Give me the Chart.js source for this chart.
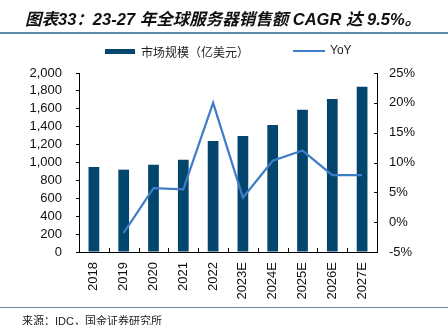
<!DOCTYPE html>
<html><head><meta charset="utf-8">
<script src="https://cdn.jsdelivr.net/npm/chart.js@4"></script>
<style>
html,body{margin:0;padding:0;background:#fff;width:448px;height:325px;overflow:hidden;}
#wrap{position:relative;width:448px;height:325px;}
canvas{position:absolute;left:0;top:0;}
.title{position:absolute;left:25px;top:6px;font:italic bold 16.5px "Liberation Sans","Noto Sans CJK SC",sans-serif;color:#111;white-space:nowrap;}
.rule1{position:absolute;left:0;top:32px;width:448px;height:2px;background:#5E8BA8;}
.rule2{position:absolute;left:0;top:307px;width:448px;height:1px;background:#5E8BA8;}
.src{position:absolute;left:22px;top:312px;font:11px "Liberation Sans","Noto Sans CJK SC",sans-serif;color:#222;white-space:nowrap;}
.leg{position:absolute;top:43px;font:12px "Liberation Sans","Noto Sans CJK SC",sans-serif;color:#222;white-space:nowrap;}
.sw1{position:absolute;left:105px;top:49px;width:30px;height:5px;background:#02466E;}
.sw2{position:absolute;left:293px;top:50px;width:32px;height:2px;background:#3F7DC8;}
</style></head>
<body><div id="wrap">
<canvas id="c" width="448" height="325"></canvas>
<div class="title">图表33：23-27 年全球服务器销售额 CAGR 达 9.5%。</div>
<div class="rule1"></div>
<div class="sw1"></div><div class="leg" style="left:141px;">市场规模（亿美元）</div>
<div class="sw2"></div><div class="leg" style="left:330px;">YoY</div>
<div class="rule2"></div>
<div class="src">来源：IDC，国金证券研究所</div>
</div>
<script>
const categories = ['2018','2019','2020','2021','2022','2023E','2024E','2025E','2026E','2027E'];
const marketSize = [950, 920, 975, 1030, 1240, 1295, 1420, 1590, 1710, 1845];
const yoy = [null, -1.8, 5.7, 5.5, 20.0, 4.1, 10.3, 12.0, 7.9, 7.9];
const leftTicks = [0,200,400,600,800,1000,1200,1400,1600,1800,2000];
const rightTicks = [-5,0,5,10,15,20,25];

const tickFont = {family:'"Liberation Sans", Arial, sans-serif', size:13, lineHeight:1.0};
const innerTicks = {
  id:'innerTicks',
  afterDraw(chart){
    const ctx = chart.ctx, x = chart.scales.x, yr = chart.scales.y1;
    const a = chart.chartArea;
    ctx.save();
    ctx.strokeStyle = '#000'; ctx.lineWidth = 1;
    ctx.beginPath();
    const w = (x.getPixelForValue(1) - x.getPixelForValue(0));
    for (let i = 0; i <= categories.length; i++) {
      const px = Math.round(x.getPixelForValue(i) - w/2) + 0.5;
      ctx.moveTo(px, a.bottom); ctx.lineTo(px, a.bottom - 4);
    }
    rightTicks.forEach(v => {
      const py = Math.round(yr.getPixelForValue(v)) + 0.5;
      ctx.moveTo(a.right, py); ctx.lineTo(a.right - 3, py);
    });
    ctx.stroke();
    ctx.restore();
  }
};

new Chart(document.getElementById('c'), {
  data: {
    labels: categories,
    datasets: [
      {type:'line', label:'YoY', data: yoy, yAxisID:'y1', borderColor:'#3F7DC8', backgroundColor:'#3F7DC8', borderWidth:2.2, pointRadius:0, tension:0, spanGaps:false, order:0},
      {type:'bar', label:'市场规模（亿美元）', data: marketSize, yAxisID:'y', backgroundColor:'#02466E', barPercentage:0.36, categoryPercentage:1.0, order:1}
    ]
  },
  options: {
    responsive:false, animation:false,
    layout:{padding:{top:73, bottom:20, left:0, right:0}},
    plugins:{legend:{display:false}, tooltip:{enabled:false}},
    scales:{
      x:{
        grid:{display:false, drawTicks:false},
        border:{display:true, color:'#000', width:1},
        ticks:{color:'#111', font:tickFont, maxRotation:90, minRotation:90, padding:10, autoSkip:false},
        afterFit(s){ s.height = 53; }
      },
      y:{
        position:'left', min:0, max:2000,
        afterBuildTicks(s){ s.ticks = leftTicks.map(v=>({value:v})); },
        grid:{drawOnChartArea:false, drawTicks:true, tickLength:3, color:'#000'},
        border:{display:true, color:'#000', width:1},
        ticks:{color:'#111', font:tickFont, padding:14, autoSkip:false, callback:v=>v.toLocaleString('en-US')},
        afterFit(s){ s.width = 79; }
      },
      y1:{
        position:'right', min:-5, max:25,
        afterBuildTicks(s){ s.ticks = rightTicks.map(v=>({value:v})); },
        grid:{drawOnChartArea:false, drawTicks:false},
        border:{display:true, color:'#000', width:1},
        ticks:{color:'#111', font:tickFont, padding:12, autoSkip:false, callback:v=>v+'%'},
        afterFit(s){ s.width = 71; }
      }
    }
  },
  plugins:[innerTicks]
});
</script>
</body></html>
